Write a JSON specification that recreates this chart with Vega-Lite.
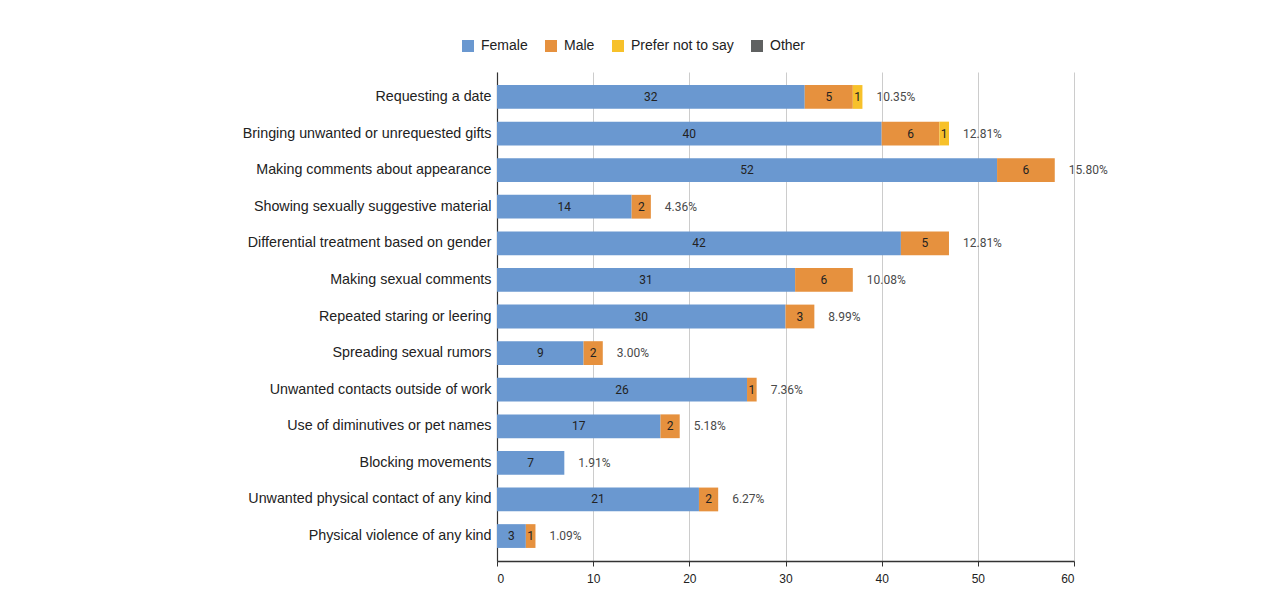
{
  "$schema": "https://vega.github.io/schema/vega-lite/v6.json",
  "width": 577,
  "height": 489,
  "autosize": {"type": "none"},
  "padding": {"left": 497, "top": 72, "right": 214, "bottom": 46},
  "background": "white",
  "datasets": {
    "responses": [
      {"behaviour": "Requesting a date", "gender": "Female", "count": 32},
      {"behaviour": "Requesting a date", "gender": "Male", "count": 5},
      {"behaviour": "Requesting a date", "gender": "Prefer not to say", "count": 1},
      {"behaviour": "Bringing unwanted or unrequested gifts", "gender": "Female", "count": 40},
      {"behaviour": "Bringing unwanted or unrequested gifts", "gender": "Male", "count": 6},
      {"behaviour": "Bringing unwanted or unrequested gifts", "gender": "Prefer not to say", "count": 1},
      {"behaviour": "Making comments about appearance", "gender": "Female", "count": 52},
      {"behaviour": "Making comments about appearance", "gender": "Male", "count": 6},
      {"behaviour": "Showing sexually suggestive material", "gender": "Female", "count": 14},
      {"behaviour": "Showing sexually suggestive material", "gender": "Male", "count": 2},
      {"behaviour": "Differential treatment based on gender", "gender": "Female", "count": 42},
      {"behaviour": "Differential treatment based on gender", "gender": "Male", "count": 5},
      {"behaviour": "Making sexual comments", "gender": "Female", "count": 31},
      {"behaviour": "Making sexual comments", "gender": "Male", "count": 6},
      {"behaviour": "Repeated staring or leering", "gender": "Female", "count": 30},
      {"behaviour": "Repeated staring or leering", "gender": "Male", "count": 3},
      {"behaviour": "Spreading sexual rumors", "gender": "Female", "count": 9},
      {"behaviour": "Spreading sexual rumors", "gender": "Male", "count": 2},
      {"behaviour": "Unwanted contacts outside of work", "gender": "Female", "count": 26},
      {"behaviour": "Unwanted contacts outside of work", "gender": "Male", "count": 1},
      {"behaviour": "Use of diminutives or pet names", "gender": "Female", "count": 17},
      {"behaviour": "Use of diminutives or pet names", "gender": "Male", "count": 2},
      {"behaviour": "Blocking movements", "gender": "Female", "count": 7},
      {"behaviour": "Unwanted physical contact of any kind", "gender": "Female", "count": 21},
      {"behaviour": "Unwanted physical contact of any kind", "gender": "Male", "count": 2},
      {"behaviour": "Physical violence of any kind", "gender": "Female", "count": 3},
      {"behaviour": "Physical violence of any kind", "gender": "Male", "count": 1}
    ],
    "totals": [
      {"behaviour": "Requesting a date", "total": 38, "share": "10.35%"},
      {"behaviour": "Bringing unwanted or unrequested gifts", "total": 47, "share": "12.81%"},
      {"behaviour": "Making comments about appearance", "total": 58, "share": "15.80%"},
      {"behaviour": "Showing sexually suggestive material", "total": 16, "share": "4.36%"},
      {"behaviour": "Differential treatment based on gender", "total": 47, "share": "12.81%"},
      {"behaviour": "Making sexual comments", "total": 37, "share": "10.08%"},
      {"behaviour": "Repeated staring or leering", "total": 33, "share": "8.99%"},
      {"behaviour": "Spreading sexual rumors", "total": 11, "share": "3.00%"},
      {"behaviour": "Unwanted contacts outside of work", "total": 27, "share": "7.36%"},
      {"behaviour": "Use of diminutives or pet names", "total": 19, "share": "5.18%"},
      {"behaviour": "Blocking movements", "total": 7, "share": "1.91%"},
      {"behaviour": "Unwanted physical contact of any kind", "total": 23, "share": "6.27%"},
      {"behaviour": "Physical violence of any kind", "total": 4, "share": "1.09%"}
    ]
  },
  "layer": [
    {
      "data": {"name": "responses"},
      "mark": {"type": "bar"},
      "encoding": {
        "y": {
          "field": "behaviour",
          "type": "nominal",
          "sort": [
            "Requesting a date",
            "Bringing unwanted or unrequested gifts",
            "Making comments about appearance",
            "Showing sexually suggestive material",
            "Differential treatment based on gender",
            "Making sexual comments",
            "Repeated staring or leering",
            "Spreading sexual rumors",
            "Unwanted contacts outside of work",
            "Use of diminutives or pet names",
            "Blocking movements",
            "Unwanted physical contact of any kind",
            "Physical violence of any kind"
          ],
          "scale": {"paddingInner": 0.35, "paddingOuter": 0.357},
          "axis": {
            "title": null,
            "ticks": false,
            "grid": false,
            "domain": true,
            "domainColor": "#333333",
            "domainWidth": 1.2,
            "labelFont": "Liberation Sans",
            "labelFontSize": 14.3,
            "labelColor": "#222222",
            "labelPadding": 6,
            "labelLimit": 400
          }
        },
        "x": {
          "field": "count",
          "type": "quantitative",
          "stack": "zero",
          "scale": {"domain": [0, 60], "nice": false},
          "axis": {
            "title": null,
            "values": [0, 10, 20, 30, 40, 50, 60],
            "grid": true,
            "gridColor": "#cccccc",
            "gridWidth": 1,
            "domainColor": "#333333",
            "domainWidth": 1.5,
            "tickColor": "#333333",
            "tickSize": 5,
            "labelFont": "Liberation Sans",
            "labelFontSize": 12,
            "labelColor": "#222222",
            "labelPadding": 7
          }
        },
        "order": {"field": "gender", "sort": "ascending"},
        "color": {
          "field": "gender",
          "type": "nominal",
          "scale": {
            "domain": ["Female", "Male", "Prefer not to say", "Other"],
            "range": ["#6a98d0", "#e6913e", "#f7c12a", "#5f6161"]
          },
          "legend": {
            "title": null,
            "orient": "none",
            "direction": "horizontal",
            "legendX": -36,
            "legendY": -33,
            "padding": 0,
            "symbolType": "square",
            "symbolSize": 144,
            "symbolStrokeWidth": 0,
            "labelFont": "Liberation Sans",
            "labelFontSize": 14,
            "labelColor": "#222222",
            "labelOffset": 6,
            "columnPadding": 16
          }
        }
      }
    },
    {
      "data": {"name": "responses"},
      "mark": {"type": "text", "font": "Roboto", "fontSize": 12, "color": "#222222", "baseline": "middle", "align": "center"},
      "encoding": {
        "y": {
          "field": "behaviour",
          "type": "nominal",
          "sort": [
            "Requesting a date",
            "Bringing unwanted or unrequested gifts",
            "Making comments about appearance",
            "Showing sexually suggestive material",
            "Differential treatment based on gender",
            "Making sexual comments",
            "Repeated staring or leering",
            "Spreading sexual rumors",
            "Unwanted contacts outside of work",
            "Use of diminutives or pet names",
            "Blocking movements",
            "Unwanted physical contact of any kind",
            "Physical violence of any kind"
          ]
        },
        "x": {"field": "count", "type": "quantitative", "stack": "zero", "bandPosition": 0.5},
        "detail": {"field": "gender", "type": "nominal"},
        "order": {"field": "gender", "sort": "ascending"},
        "text": {"field": "count", "type": "quantitative"}
      }
    },
    {
      "data": {"name": "totals"},
      "mark": {"type": "text", "font": "Roboto", "fontSize": 12, "color": "#4a4a4a", "baseline": "middle", "align": "left", "dx": 14},
      "encoding": {
        "y": {
          "field": "behaviour",
          "type": "nominal",
          "sort": [
            "Requesting a date",
            "Bringing unwanted or unrequested gifts",
            "Making comments about appearance",
            "Showing sexually suggestive material",
            "Differential treatment based on gender",
            "Making sexual comments",
            "Repeated staring or leering",
            "Spreading sexual rumors",
            "Unwanted contacts outside of work",
            "Use of diminutives or pet names",
            "Blocking movements",
            "Unwanted physical contact of any kind",
            "Physical violence of any kind"
          ]
        },
        "x": {"field": "total", "type": "quantitative"},
        "text": {"field": "share", "type": "nominal"}
      }
    }
  ],
  "config": {
    "view": {"stroke": null},
    "font": "Liberation Sans"
  }
}
